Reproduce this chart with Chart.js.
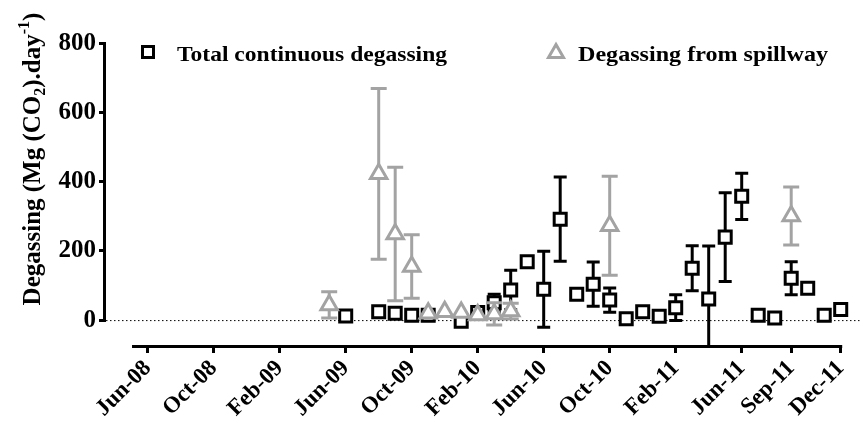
<!DOCTYPE html>
<html><head><meta charset="utf-8">
<script src="https://cdn.jsdelivr.net/npm/chart.js@4.4.1/dist/chart.umd.min.js"></script>
<style>html,body{margin:0;padding:0;background:#fff;overflow:hidden;}#wrap{width:861px;height:423px;position:relative;}</style>
</head><body><div id="wrap"><canvas id="c"></canvas></div>
<script>
const tickLabels = ['Jun-08','Oct-08','Feb-09','Jun-09','Oct-09','Feb-10','Jun-10','Oct-10','Feb-11','Jun-11','Sep-11','Dec-11'];
const yTicks = [0,200,400,600,800];
const totalMonths = ['Jun-09','Aug-09','Sep-09','Oct-09','Nov-09','Jan-10','Feb-10','Mar-10','Apr-10','May-10','Jun-10','Jul-10','Aug-10','Sep-10','Oct-10','Nov-10','Dec-10','Jan-11','Feb-11','Mar-11','Apr-11','May-11','Jun-11','Jul-11','Aug-11','Sep-11','Oct-11','Nov-11','Dec-11'];
const totalValues = [12,24,20,14,14,-3,22,50,87,169,89,292,75,104,58,4,24,11,36,150,61,240,358,14,6,121,92,14,31];
const totalErrors = [0,8,5,0,0,5,0,25,57,0,110,122,12,64,35,0,0,0,37,65,153,128,67,0,0,48,10,0,0];
const spillMonths = ['May-09','Aug-09','Sep-09','Oct-09','Nov-09','Dec-09','Jan-10','Feb-10','Mar-10','Apr-10','Oct-10','Sep-11'];
const spillValues = [44,423,249,155,20,24,22,15,18,26,273,301];
const spillErrors = [38,247,193,92,0,0,0,0,32,23,143,84];

const MONTHS = ['Jan','Feb','Mar','Apr','May','Jun','Jul','Aug','Sep','Oct','Nov','Dec'];
function monthIndex(label){ const p = label.split('-'); return (2000 + Number(p[1]) - 2008) * 12 + MONTHS.indexOf(p[0]) - 5; }
const tickVals = tickLabels.map(monthIndex);
const FONT = "'Liberation Serif', 'Times New Roman', serif";
const BLACK = '#000000', GREY = '#a3a3a3';

const errorBars = {
  id:'errorBars',
  beforeDatasetDraw(chart, args){
    const ds = chart.data.datasets[args.index];
    const meta = chart.getDatasetMeta(args.index);
    const ys = chart.scales.y;
    const ctx = chart.ctx, ca = chart.chartArea;
    ctx.save();
    ctx.beginPath(); ctx.rect(ca.left, ca.top - 5, ca.right - ca.left, ca.bottom - ca.top + 5); ctx.clip();
    ctx.strokeStyle = ds.borderColor; ctx.lineWidth = 3; ctx.lineCap = 'butt';
    const cap = ds.capWidth / 2;
    meta.data.forEach((pt, i) => {
      const e = ds.errors[i]; if (!e) return;
      const v = ds.data[i].y;
      const yt = ys.getPixelForValue(v + e), yb = ys.getPixelForValue(v - e);
      ctx.beginPath();
      ctx.moveTo(pt.x, yt); ctx.lineTo(pt.x, yb);
      ctx.moveTo(pt.x - cap, yt); ctx.lineTo(pt.x + cap, yt);
      ctx.moveTo(pt.x - cap, yb); ctx.lineTo(pt.x + cap, yb);
      ctx.stroke();
    });
    ctx.restore();
  }
};

const decor = {
  id:'decor',
  beforeDatasetsDraw(chart){
    const ctx = chart.ctx, xs = chart.scales.x, ys = chart.scales.y, ca = chart.chartArea;
    ctx.save();
    const y0 = ys.getPixelForValue(0);
    ctx.strokeStyle = BLACK; ctx.lineWidth = 1; ctx.setLineDash([1.5,2.5]);
    ctx.beginPath(); ctx.moveTo(ca.left, y0 + 0.5); ctx.lineTo(ca.right, y0 + 0.5); ctx.stroke();
    ctx.setLineDash([]);
    ctx.lineWidth = 3;
    ctx.beginPath(); ctx.moveTo(ca.left - 1.5, ys.getPixelForValue(800) - 1.5); ctx.lineTo(ca.left - 1.5, y0 + 1.5); ctx.stroke();
    ctx.beginPath(); ctx.moveTo(xs.getPixelForValue(-0.95), ca.bottom + 1.5); ctx.lineTo(xs.getPixelForValue(42) + 1.5, ca.bottom + 1.5); ctx.stroke();
    ctx.restore();
  },
  afterDraw(chart){
    const ctx = chart.ctx;
    ctx.save();
    ctx.lineWidth = 3;
    ctx.strokeStyle = BLACK; ctx.fillStyle = '#fff';
    ctx.beginPath(); ctx.rect(142.5, 46.5, 11, 11); ctx.fill(); ctx.stroke();
    ctx.strokeStyle = GREY;
    ctx.beginPath(); ctx.moveTo(556, 44.5); ctx.lineTo(563.5, 57.5); ctx.lineTo(548.5, 57.5); ctx.closePath(); ctx.fill(); ctx.stroke();
    ctx.fillStyle = BLACK;
    ctx.font = "bold 22px " + FONT; ctx.textBaseline = 'alphabetic';
    const drawStretched = (t, x, y, w) => {
      const m = ctx.measureText(t).width;
      ctx.save(); ctx.translate(x, y); ctx.scale(w / m, 1); ctx.fillText(t, 0, 0); ctx.restore();
    };
    drawStretched('Total continuous degassing', 177, 61, 270);
    drawStretched('Degassing from spillway', 578, 61, 250);
    const big = "bold 25px " + FONT, small = "bold 16px " + FONT;
    const parts = [['Degassing (Mg (CO', big, 0], ['2', small, 5], [').day', big, 0], ['-1', small, -11], [')', big, 0]];
    let total = 0;
    parts.forEach(p => { ctx.font = p[1]; total += ctx.measureText(p[0]).width; });
    ctx.translate(40, 159); ctx.rotate(-Math.PI / 2);
    let x = -total / 2;
    parts.forEach(p => { ctx.font = p[1]; ctx.fillText(p[0], x, p[2]); x += ctx.measureText(p[0]).width; });
    ctx.restore();
  }
};

new Chart(document.getElementById('c'), {
  type:'scatter',
  data:{ datasets:[
    { label:'Total continuous degassing', data: totalMonths.map((m,i)=>({x:monthIndex(m), y:totalValues[i]})), errors: totalErrors, capWidth: 13,
      pointStyle:'rect', radius:8.5, borderColor:BLACK, backgroundColor:'#fff', borderWidth:3, order:1 },
    { label:'Degassing from spillway', data: spillMonths.map((m,i)=>({x:monthIndex(m), y:spillValues[i]})), errors: spillErrors, capWidth: 16,
      pointStyle:'triangle', radius:9.5, borderColor:GREY, backgroundColor:'#fff', borderWidth:3, order:0 }
  ]},
  options:{
    responsive:true, maintainAspectRatio:false, animation:false, devicePixelRatio:1,
    layout:{ autoPadding:false, padding:{ top:43.5, left:0, right:0, bottom:0 } },
    plugins:{ legend:{display:false}, tooltip:{enabled:false} },
    scales:{
      x:{ type:'linear', min:-2.527, max:43.23,
        afterBuildTicks: s => { s.ticks = tickVals.map(v => ({value:v})); },
        ticks:{ autoSkip:false, maxRotation:45, minRotation:45, color:BLACK, padding:2,
          font:{ family:FONT, size:23, weight:'bold' },
          callback:(v, i) => tickLabels[i] },
        grid:{ drawOnChartArea:false, drawTicks:true, tickLength:8, lineWidth:3, color:BLACK },
        border:{ display:false },
        afterFit: s => { s.height = 78; s.paddingLeft = 0; s.paddingRight = 0; } },
      y:{ min:-72, max:800,
        afterBuildTicks: s => { s.ticks = yTicks.map(v => ({value:v})); },
        ticks:{ color:BLACK, padding:3, font:{ family:FONT, size:25, weight:'bold' } },
        grid:{ drawOnChartArea:false, drawTicks:true, tickLength:7, lineWidth:3, color:BLACK },
        border:{ display:false },
        afterFit: s => { s.width = 106; s.paddingTop = 0; s.paddingBottom = 0; } }
    }
  },
  plugins:[errorBars, decor]
});
</script></body></html>
